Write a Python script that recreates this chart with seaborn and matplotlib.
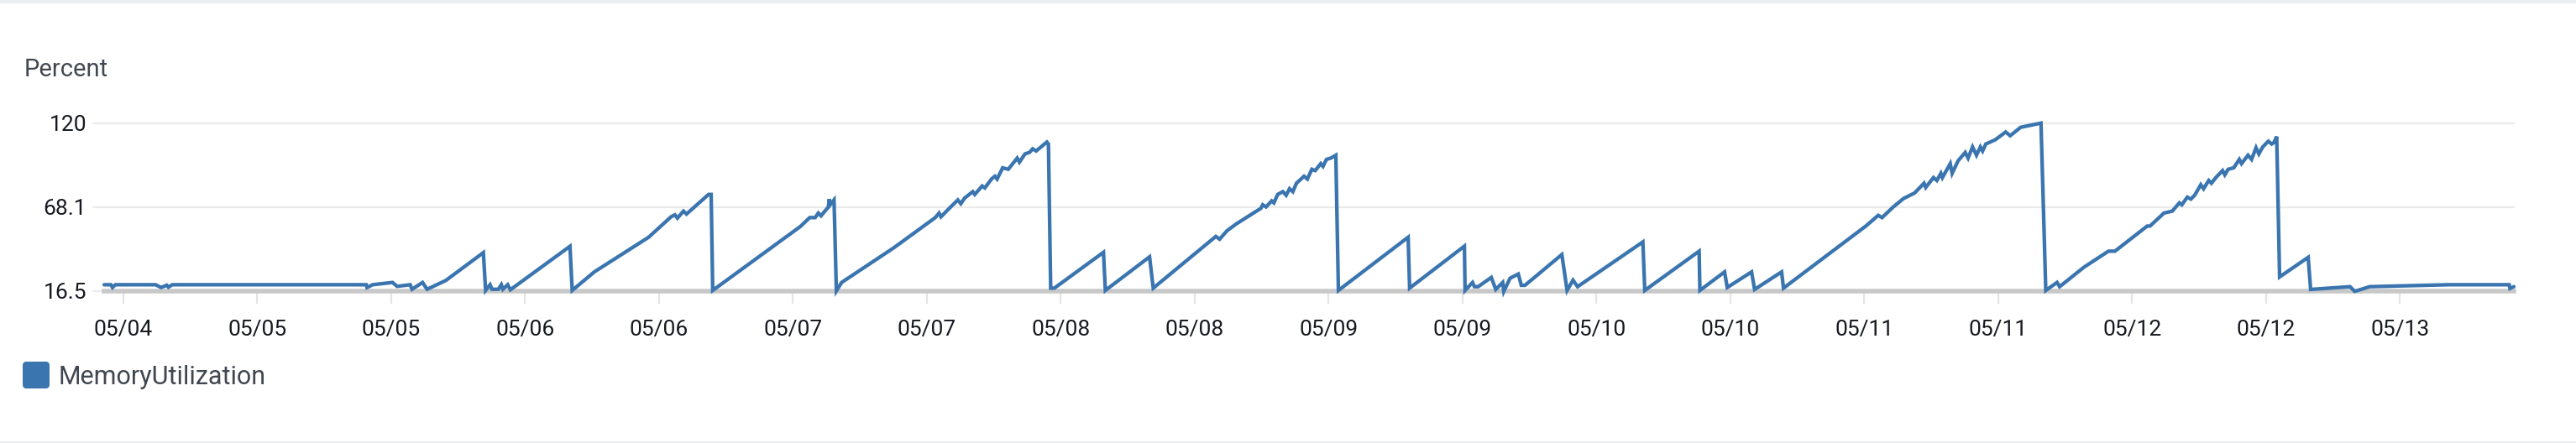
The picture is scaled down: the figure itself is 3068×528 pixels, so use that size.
import matplotlib
matplotlib.use("Agg")
import matplotlib.pyplot as plt
import matplotlib.dates as mdates
from matplotlib.lines import Line2D
from matplotlib.markers import MarkerStyle
from matplotlib.patches import Rectangle
import pandas as pd
import seaborn as sns

# ---------------- data (hours after 05/04 12:00, percent) ----------------
start_time = "2024-05-04 12:00"
hours = [
    -1.71, -1.1, -0.96, -0.7, 2.9, 3.4, 3.9, 4.05, 4.4,
    21.78, 21.85, 22.35, 24.13, 24.54, 25.71, 25.88, 26.82, 27.23, 28.9, 32.27, 32.47, 32.87, 33.04, 33.61, 33.88, 34.02, 34.45, 34.69,
    40.03, 40.23, 42.21, 47.08, 49.09, 49.43, 49.66, 50.2, 50.47, 52.45, 52.68, 52.82,
    60.67, 61.51, 62.0, 62.28, 62.52, 63.19, 63.25, 63.36, 63.69, 63.9,
    64.37, 69.07, 72.76, 73.1, 73.27, 73.94, 74.78, 75.05, 75.4, 76.12, 76.3, 76.96, 77.2, 77.8, 78.1, 78.3, 78.8, 79.3, 79.6, 80.1, 80.3, 80.8, 81.2, 81.49, 81.8, 82.76, 82.9, 83.1, 83.43,
    87.83, 88.0, 91.96, 92.29, 97.9, 98.24, 98.9, 99.75, 101.93, 102.1, 102.4, 102.9, 103.1, 103.44, 103.9, 104.2, 104.5, 104.8, 105.12, 105.8, 106.1, 106.5, 106.8, 107.3, 107.5, 107.81, 108.2, 108.65, 108.88,
    115.13, 115.26, 120.17, 120.23, 120.9, 121.07, 121.4, 122.58, 122.98, 123.6, 123.7, 124.26, 125.0, 125.27, 125.6, 128.9, 129.37, 129.9, 130.31,
    136.16, 136.33, 141.2, 141.27, 143.48, 143.72, 145.9, 146.17, 148.59, 148.76,
    156.14, 157.25, 157.59, 158.6, 159.5, 160.51, 161.35, 161.5, 162.2, 162.5, 162.86, 163.0, 163.7, 163.87, 164.4, 165.04, 165.3, 165.7, 166.05, 166.4, 166.6, 166.89, 167.73, 168.67, 169.07, 170.01, 171.83, 172.26,
    173.27, 173.5, 175.7, 177.88, 178.46, 181.35, 181.6, 182.85, 183.59, 184.23, 184.45, 184.94, 185.26, 185.6, 186.15, 186.4, 186.86, 187.1, 187.5, 188.1, 188.3, 188.6, 189.1, 189.6, 189.8, 190.38, 190.7, 191.1, 191.35, 191.7, 192.2, 192.5, 192.7, 192.95, 193.21,
    195.77, 195.99, 199.52, 199.94, 201.28, 208.33, 213.78, 213.85, 214.2,
]
memory_pct = [
    20.3, 20.3, 18.6, 20.3, 20.3, 18.6, 20.0, 18.8, 20.3,
    20.3, 18.6, 20.3, 21.7, 19.3, 20.3, 17.5, 21.7, 17.5, 22.9, 40.1, 16.8, 20.3, 17.5, 17.5, 20.3, 17.5, 20.3, 17.2,
    44.0, 16.8, 28.2, 49.6, 62.2, 63.4, 61.4, 65.7, 63.9, 76.0, 76.0, 16.8,
    56.2, 61.7, 61.7, 64.5, 62.8, 68.3, 73.1, 69.7, 72.6, 16.5,
    21.7, 43.2, 61.7, 64.5, 62.2, 66.9, 72.6, 70.3, 73.8, 77.7, 76.0, 81.2, 80.0, 85.5, 87.2, 85.5, 92.4, 91.5, 94.1, 98.4, 95.9, 101.0, 101.9, 104.1, 102.8, 108.3, 107.1, 18.2, 18.2,
    40.3, 16.8, 37.5, 18.2, 50.1, 48.4, 53.6, 57.9, 67.4, 69.6, 68.3, 72.0, 70.8, 76.0, 77.7, 75.5, 79.5, 77.7, 82.9, 87.2, 85.5, 91.5, 90.7, 95.0, 93.3, 97.6, 98.4, 100.2, 16.8,
    49.6, 18.2, 44.1, 16.8, 21.7, 19.1, 19.1, 24.8, 17.4, 21.7, 16.2, 24.3, 26.9, 19.95, 19.95, 38.9, 16.8, 23.1, 19.1,
    46.7, 16.8, 41.0, 16.8, 28.2, 18.6, 28.2, 17.4, 28.2, 18.2,
    56.5, 63.1, 61.7, 68.3, 73.4, 76.9, 82.9, 80.3, 86.4, 84.6, 89.0, 86.4, 95.0, 89.0, 96.7, 101.9, 98.4, 105.3, 100.2, 105.3, 102.8, 107.1, 109.7, 114.5, 112.2, 117.4, 120.0, 16.8,
    21.7, 19.1, 31.2, 41.0, 41.0, 56.5, 56.5, 64.5, 65.7, 70.8, 69.6, 74.3, 73.1, 75.5, 82.0, 79.5, 84.6, 82.9, 86.4, 90.7, 88.1, 91.5, 92.4, 97.6, 95.0, 100.2, 97.6, 104.8, 101.0, 105.3, 108.8, 107.1, 108.0, 111.7, 25.1,
    37.2, 17.4, 19.1, 16.2, 19.1, 20.3, 20.3, 18.0, 19.1,
]
series_name = "MemoryUtilization"
y_label = "Percent"
y_ticks = [16.5, 68.1, 120]
y_tick_labels = ["16.5", "68.1", "120"]
x_range_hours = [-1.71, 214.2]

# ---------------- styling ----------------
LINE_COLOR = "#3a75b0"
GRID_COLOR = "#ebebeb"
AXIS_COLOR = "#c8c8c8"
TEXT_DARK = "#16191f"
TEXT_GRAY = "#414750"

sns.set_theme(style="white")
plt.rcParams["font.family"] = ["Roboto", "DejaVu Sans"]

W, H = 3068, 528
DPI = 100
fig = plt.figure(figsize=(W / DPI, H / DPI), dpi=DPI, facecolor="white")

px = lambda v: v * 72.0 / DPI  # pixels -> points

ax_left, ax_right = 124, 2994
ax_top, ax_bottom = 146.7, 346.7
ax = fig.add_axes([ax_left / W, (H - ax_bottom) / H,
                   (ax_right - ax_left) / W, (ax_bottom - ax_top) / H])
ax.set_facecolor("white")

t0 = pd.Timestamp(start_time)
df = pd.DataFrame({
    "time": t0 + pd.to_timedelta(hours, unit="h"),
    "value": memory_pct,
})

sns.lineplot(data=df, x="time", y="value", ax=ax, color=LINE_COLOR,
             linewidth=px(4.3), estimator=None, sort=False, legend=False)
for ln in ax.lines:
    ln.set_clip_on(False)
    ln.set_zorder(5)
    ln.set_solid_joinstyle("miter")

ax.set_xlim(t0 + pd.Timedelta(hours=x_range_hours[0]),
            t0 + pd.Timedelta(hours=x_range_hours[1]))
ax.set_ylim(y_ticks[0], y_ticks[-1])

# gridlines (extend a little left of plot)
ext = 13 / (ax_right - ax_left)
for yv in y_ticks:
    ax.axhline(yv, xmin=-ext, xmax=1, color=GRID_COLOR, lw=px(2.2),
               clip_on=False, zorder=0)

ax.set_yticks(y_ticks)
ax.set_yticklabels(y_tick_labels)
ax.xaxis.set_major_locator(mdates.HourLocator(byhour=[0, 12]))
ax.xaxis.set_major_formatter(mdates.DateFormatter("%m/%d"))

ax.tick_params(axis="y", length=0, pad=px(21), labelsize=19, labelcolor=TEXT_DARK)
ax.tick_params(axis="x", length=px(15), width=px(2.2), color="#e4e4e4",
               pad=px(19), labelsize=19, labelcolor=TEXT_DARK, direction="out",
               bottom=True)
ax.set_xlabel("")
ax.set_ylabel("")

for s in ["top", "left", "right"]:
    ax.spines[s].set_visible(False)
ax.spines["bottom"].set_color(AXIS_COLOR)
ax.spines["bottom"].set_linewidth(px(5.5))
ax.spines["bottom"].set_zorder(1)

# y unit label
fig.text(29 / W, (H - 91) / H, y_label, fontsize=21, color=TEXT_GRAY,
         ha="left", va="baseline")

# legend
handle = Line2D([], [], linestyle="none",
                marker=MarkerStyle("s", joinstyle="round"),
                markersize=px(24), markeredgewidth=px(8),
                markerfacecolor=LINE_COLOR, markeredgecolor=LINE_COLOR)
fig.legend([handle], [series_name], loc="center left",
           bbox_to_anchor=(28 / W, (H - 449) / H), frameon=False,
           fontsize=22, labelcolor=TEXT_GRAY, handlelength=1.0,
           handletextpad=0.35, borderpad=0, borderaxespad=0)

# panel borders
fig.add_artist(Rectangle((0, 1 - 4 / H), 1, 4 / H, transform=fig.transFigure,
                         facecolor="#eaeded", edgecolor="none"))
fig.add_artist(Rectangle((0, 0), 1, 2 / H, transform=fig.transFigure,
                         facecolor="#eaeded", edgecolor="none"))

fig.savefig("out.png", dpi=DPI, facecolor="white")
